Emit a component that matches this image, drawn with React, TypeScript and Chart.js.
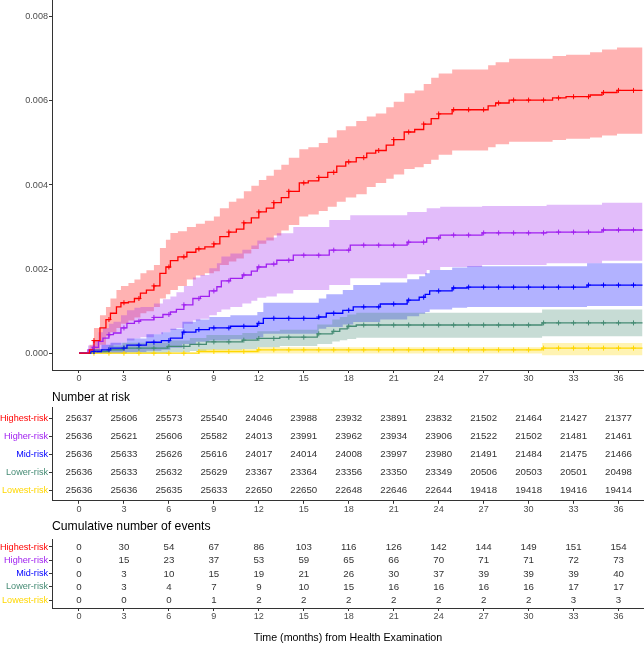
import React, { useEffect, useRef } from 'react';
import { Chart, registerables } from 'chart.js';

Chart.register(...registerables);
Chart.defaults.font.family = "'Liberation Sans', Arial, sans-serif";

const GROUPS = ['Highest-risk', 'Higher-risk', 'Mid-risk', 'Lower-risk', 'Lowest-risk'];
const COLORS = ['#FF0000', '#A020F0', '#0000FF', '#458B74', '#FFD700'];
const BAND_COLORS = ['rgba(255,0,0,0.3)', 'rgba(160,32,240,0.3)', 'rgba(0,0,255,0.3)', 'rgba(69,139,116,0.3)', 'rgba(255,215,0,0.3)'];

const X_TICKS = [0, 3, 6, 9, 12, 15, 18, 21, 24, 27, 30, 33, 36];
const Y_TICKS = [0, 0.002, 0.004, 0.006, 0.008];

// Highest-risk
const HIGHEST_T = [0, 0.7, 1.0, 1.4, 1.8, 2.1, 2.5, 2.8, 3.3, 3.7, 4.1, 4.5, 5.0, 5.4, 5.8, 6.1, 6.6, 7.2, 7.8, 8.4, 9.0, 9.4, 10.0, 10.5, 11.0, 11.5, 12.0, 12.5, 13.0, 13.5, 14.0, 14.7, 15.3, 16.0, 16.6, 17.2, 17.8, 18.5, 19.2, 19.8, 20.5, 21.0, 21.7, 22.4, 23.0, 23.5, 24.0, 24.9, 27.3, 27.8, 28.7, 31.6, 32.5, 34.1, 34.9, 35.9, 37.6];
const HIGHEST_EST = [0, 0.00008, 0.0003, 0.0006, 0.0008, 0.00095, 0.0011, 0.0012, 0.00122, 0.0013, 0.00143, 0.0015, 0.0016, 0.0019, 0.00205, 0.0022, 0.00229, 0.0024, 0.00248, 0.00253, 0.0026, 0.00277, 0.00288, 0.00295, 0.0031, 0.00322, 0.00336, 0.00345, 0.00358, 0.0037, 0.00385, 0.00405, 0.0041, 0.00418, 0.0043, 0.00445, 0.00455, 0.00465, 0.00476, 0.00482, 0.00495, 0.00508, 0.00526, 0.00532, 0.00545, 0.00558, 0.00569, 0.00579, 0.00588, 0.00595, 0.00602, 0.00607, 0.0061, 0.00614, 0.0062, 0.00625, 0.00625];
const HIGHEST_HI = [0, 0.0002, 0.0006, 0.0009, 0.0011, 0.0013, 0.0015, 0.0016, 0.00167, 0.00175, 0.0019, 0.00197, 0.0021, 0.0025, 0.0027, 0.00286, 0.0029, 0.003, 0.00308, 0.00315, 0.00325, 0.00345, 0.0036, 0.00368, 0.00385, 0.00398, 0.00412, 0.00422, 0.00436, 0.00448, 0.00465, 0.00485, 0.0049, 0.005, 0.00513, 0.0053, 0.0054, 0.00552, 0.00563, 0.0057, 0.00585, 0.00598, 0.00618, 0.00625, 0.0064, 0.00655, 0.00665, 0.00675, 0.00685, 0.00692, 0.007, 0.00707, 0.0071, 0.00716, 0.00722, 0.00727, 0.00727];
const HIGHEST_LO = [0, 0, 0.00005, 0.0002, 0.0004, 0.0005, 0.0006, 0.0007, 0.00078, 0.00085, 0.00095, 0.001, 0.0011, 0.0013, 0.0014, 0.0015, 0.0016, 0.00175, 0.00185, 0.0019, 0.00195, 0.0021, 0.00218, 0.00225, 0.00237, 0.00248, 0.0026, 0.00268, 0.0028, 0.00292, 0.00305, 0.00325, 0.0033, 0.00338, 0.00348, 0.0036, 0.0037, 0.00378, 0.00395, 0.00405, 0.00415, 0.00425, 0.00438, 0.00442, 0.0045, 0.0046, 0.00472, 0.00482, 0.0049, 0.00497, 0.00503, 0.00507, 0.0051, 0.00513, 0.00518, 0.00522, 0.00522];

// Higher-risk
const HIGHER_T = [0, 0.6, 0.9, 1.3, 1.6, 2.0, 2.3, 2.8, 3.2, 3.7, 4.1, 5.0, 5.6, 6.1, 6.5, 7.0, 7.6, 8.1, 8.7, 9.2, 9.5, 10.1, 10.9, 11.5, 11.9, 12.5, 13.2, 14.3, 16.7, 18.1, 21.9, 23.2, 24.1, 26.9, 31.2, 34.9, 37.6];
const HIGHER_EST = [0, 0.00008, 0.00014, 0.00028, 0.00036, 0.00044, 0.00048, 0.0006, 0.00071, 0.00076, 0.00079, 0.00085, 0.00092, 0.00098, 0.00104, 0.00115, 0.0013, 0.00135, 0.00148, 0.00158, 0.00172, 0.00178, 0.00186, 0.00195, 0.00205, 0.00212, 0.00221, 0.00233, 0.00245, 0.00257, 0.00264, 0.00274, 0.00281, 0.00286, 0.00288, 0.00293, 0.00293];
const HIGHER_HI = [0, 0.00018, 0.0003, 0.0005, 0.0006, 0.0007, 0.00075, 0.0009, 0.00102, 0.00108, 0.0011, 0.00118, 0.00128, 0.00135, 0.00145, 0.0016, 0.0018, 0.00186, 0.00202, 0.00214, 0.0023, 0.00237, 0.00246, 0.00256, 0.00268, 0.00275, 0.00285, 0.003, 0.00317, 0.00328, 0.00336, 0.00345, 0.00348, 0.0035, 0.00353, 0.00358, 0.00358];
const HIGHER_LO = [0, 0, 0, 0.00005, 0.0001, 0.00015, 0.0002, 0.00025, 0.0003, 0.00035, 0.00038, 0.00045, 0.0005, 0.00055, 0.0006, 0.0007, 0.00078, 0.00082, 0.0009, 0.00098, 0.00104, 0.0011, 0.00118, 0.00125, 0.00132, 0.00135, 0.00142, 0.0015, 0.00162, 0.00178, 0.00188, 0.00198, 0.00205, 0.0021, 0.00214, 0.0022, 0.0022];

// Mid-risk
const MID_T = [0, 0.8, 1.5, 2.1, 3.2, 4.5, 5.5, 6.1, 6.9, 7.8, 8.7, 10.1, 11.9, 12.3, 16.0, 16.5, 17.6, 18.3, 20.1, 21.9, 22.7, 23.1, 23.4, 24.9, 25.9, 33.9, 37.6];
const MID_EST = [0, 0.00004, 0.00008, 0.00012, 0.00019, 0.00026, 0.0003, 0.00036, 0.0005, 0.00056, 0.0006, 0.00064, 0.00071, 0.00083, 0.00086, 0.00095, 0.00102, 0.0011, 0.00117, 0.00126, 0.00133, 0.0014, 0.00148, 0.00155, 0.00157, 0.00162, 0.00162];
const MID_HI = [0, 0.0001, 0.0002, 0.00025, 0.00035, 0.00045, 0.0005, 0.00058, 0.00075, 0.0008, 0.00086, 0.0009, 0.00098, 0.0012, 0.0013, 0.0014, 0.0015, 0.00162, 0.00168, 0.00176, 0.00183, 0.0019, 0.00198, 0.00204, 0.00207, 0.00214, 0.00214];
const MID_LO = [0, 0, 0, 0, 0.00003, 0.00006, 0.00008, 0.00013, 0.00022, 0.00027, 0.0003, 0.00033, 0.00038, 0.00046, 0.00058, 0.00062, 0.00068, 0.00074, 0.0008, 0.00088, 0.00094, 0.00098, 0.00104, 0.00108, 0.0011, 0.00112, 0.00112];

// Lower-risk
const LOWER_T = [0, 1.0, 2.0, 2.9, 5.9, 7.4, 8.5, 10.9, 11.9, 13.4, 15.9, 16.9, 17.4, 17.9, 18.5, 30.9, 37.6];
const LOWER_EST = [0, 0.00004, 0.00008, 0.00012, 0.00016, 0.00021, 0.00027, 0.00031, 0.00035, 0.00038, 0.00046, 0.00052, 0.00058, 0.00064, 0.00067, 0.00072, 0.00072];
const LOWER_HI = [0, 0.0001, 0.00018, 0.00025, 0.0003, 0.00036, 0.00043, 0.00048, 0.00052, 0.00056, 0.00068, 0.0008, 0.00086, 0.00092, 0.00096, 0.00104, 0.00104];
const LOWER_LO = [0, 0, 0, 0, 0.00002, 0.00005, 0.00008, 0.0001, 0.00014, 0.00017, 0.00022, 0.00028, 0.00031, 0.00034, 0.00037, 0.0004, 0.0004];

// Lowest-risk
const LOWEST_T = [0, 8.0, 11.9, 30.9, 37.6];
const LOWEST_EST = [0, 0.00004, 0.00008, 0.00012, 0.00012];
const LOWEST_HI = [0, 0.0001, 0.00014, 0.00024, 0.00024];
const LOWEST_LO = [0, -0.00001, -0.00001, -0.00005, -0.00005];

const CENSOR_MONTHS = [1, 2, 3, 4, 5, 6, 7, 8, 9, 10, 11, 12, 13, 14, 15, 16, 17, 18, 19, 20, 21, 22, 23, 24, 25, 26, 27, 28, 29, 30, 31, 32, 33, 34, 35, 36, 37];

// Number at risk
const RISK_HIGHEST = [25637, 25606, 25573, 25540, 24046, 23988, 23932, 23891, 23832, 21502, 21464, 21427, 21377];
const RISK_HIGHER = [25636, 25621, 25606, 25582, 24013, 23991, 23962, 23934, 23906, 21522, 21502, 21481, 21461];
const RISK_MID = [25636, 25633, 25626, 25616, 24017, 24014, 24008, 23997, 23980, 21491, 21484, 21475, 21466];
const RISK_LOWER = [25636, 25633, 25632, 25629, 23367, 23364, 23356, 23350, 23349, 20506, 20503, 20501, 20498];
const RISK_LOWEST = [25636, 25636, 25635, 25633, 22650, 22650, 22648, 22646, 22644, 19418, 19418, 19416, 19414];

// Cumulative number of events
const EVENTS_HIGHEST = [0, 30, 54, 67, 86, 103, 116, 126, 142, 144, 149, 151, 154];
const EVENTS_HIGHER = [0, 15, 23, 37, 53, 59, 65, 66, 70, 71, 71, 72, 73];
const EVENTS_MID = [0, 3, 10, 15, 19, 21, 26, 30, 37, 39, 39, 39, 40];
const EVENTS_LOWER = [0, 3, 4, 7, 9, 10, 15, 16, 16, 16, 16, 17, 17];
const EVENTS_LOWEST = [0, 0, 0, 1, 2, 2, 2, 2, 2, 2, 2, 3, 3];

const SERIES = [
  { t: HIGHEST_T, est: HIGHEST_EST, hi: HIGHEST_HI, lo: HIGHEST_LO },
  { t: HIGHER_T, est: HIGHER_EST, hi: HIGHER_HI, lo: HIGHER_LO },
  { t: MID_T, est: MID_EST, hi: MID_HI, lo: MID_LO },
  { t: LOWER_T, est: LOWER_EST, hi: LOWER_HI, lo: LOWER_LO },
  { t: LOWEST_T, est: LOWEST_EST, hi: LOWEST_HI, lo: LOWEST_LO },
];
const RISK_TABLE = [RISK_HIGHEST, RISK_HIGHER, RISK_MID, RISK_LOWER, RISK_LOWEST];
const EVENTS_TABLE = [EVENTS_HIGHEST, EVENTS_HIGHER, EVENTS_MID, EVENTS_LOWER, EVENTS_LOWEST];

const X_MIN = -1.8;
const X_MAX = 37.7;
const AXIS_COLOR = '#333333';
const TICK_TEXT = '#4D4D4D';
const TICK_FONT = 9.1;

function stepAt(t: number, T: number[], V: number[]) {
  let v = V[0];
  for (let i = 0; i < T.length; i++) {
    if (T[i] <= t) v = V[i];
  }
  return v;
}

function zeroPad(s: any) {
  s.paddingLeft = 0;
  s.paddingRight = 0;
  s.paddingTop = 0;
  s.paddingBottom = 0;
}

function xScale(height: number, title?: string) {
  return {
    type: 'linear',
    min: X_MIN,
    max: X_MAX,
    afterBuildTicks: (s: any) => { s.ticks = X_TICKS.map((v) => ({ value: v })); },
    afterFit: (s: any) => { s.height = height; zeroPad(s); },
    ticks: { font: { size: TICK_FONT }, color: TICK_TEXT, padding: 0, autoSkip: false, maxRotation: 0, callback: (v: any) => String(v) },
    grid: { drawOnChartArea: false, drawTicks: true, tickLength: 3, color: AXIS_COLOR, lineWidth: 1 },
    border: { display: true, color: AXIS_COLOR, width: 1 },
    title: title
      ? { display: true, text: title, font: { size: 10.7 }, color: '#000', padding: { top: 0, bottom: 0.6 } }
      : { display: false },
  };
}

function mainConfig(): any {
  const datasets: any[] = [];
  SERIES.forEach((s, i) => {
    datasets.push({
      type: 'scatter',
      data: CENSOR_MONTHS.map((m) => ({ x: m, y: stepAt(m, s.t, s.est) })),
      pointStyle: 'cross',
      pointRadius: 2.5,
      borderColor: COLORS[i],
      backgroundColor: COLORS[i],
      borderWidth: 1,
      showLine: false,
      order: 0,
    });
  });
  SERIES.forEach((s, i) => {
    datasets.push({
      type: 'line',
      data: s.t.map((x, k) => ({ x, y: s.est[k] })),
      borderColor: COLORS[i],
      borderWidth: 1.3,
      pointRadius: 0,
      stepped: true,
      fill: false,
      order: 1 + i,
    });
  });
  SERIES.forEach((s, i) => {
    datasets.push({
      type: 'line',
      data: s.t.map((x, k) => ({ x, y: s.hi[k] })),
      borderColor: 'transparent',
      borderWidth: 0,
      backgroundColor: BAND_COLORS[i],
      pointRadius: 0,
      stepped: true,
      fill: '+1',
      order: 20 - i,
    });
    datasets.push({
      type: 'line',
      data: s.t.map((x, k) => ({ x, y: s.lo[k] })),
      borderColor: 'transparent',
      borderWidth: 0,
      pointRadius: 0,
      stepped: true,
      fill: false,
      order: 20 - i,
    });
  });
  return {
    type: 'line',
    data: { datasets },
    options: {
      responsive: false,
      animation: false,
      devicePixelRatio: 1,
      events: [],
      layout: { padding: 0, autoPadding: false },
      plugins: { legend: { display: false }, tooltip: { enabled: false }, title: { display: false } },
      scales: {
        x: xScale(16),
        y: {
          type: 'linear',
          min: -0.0004,
          max: 0.0084,
          afterBuildTicks: (s: any) => { s.ticks = Y_TICKS.map((v) => ({ value: v })); },
          afterFit: (s: any) => { s.width = 52; zeroPad(s); },
          ticks: { font: { size: TICK_FONT }, color: TICK_TEXT, padding: 1, callback: (v: any) => Number(v).toFixed(3) },
          grid: { drawOnChartArea: false, drawTicks: true, tickLength: 3, color: AXIS_COLOR, lineWidth: 1 },
          border: { display: true, color: AXIS_COLOR, width: 1 },
        },
      },
    },
  };
}

const valueLabels = {
  id: 'valueLabels',
  afterDatasetsDraw(chart: any) {
    const ctx = chart.ctx;
    ctx.save();
    ctx.font = "9.7px 'Liberation Sans', Arial, sans-serif";
    ctx.fillStyle = '#333333';
    ctx.textAlign = 'center';
    ctx.textBaseline = 'middle';
    chart.data.datasets.forEach((ds: any, i: number) => {
      const meta = chart.getDatasetMeta(i);
      meta.data.forEach((el: any, j: number) => {
        ctx.fillText(String(ds.data[j].v), el.x, el.y + 0.5);
      });
    });
    ctx.restore();
  },
};

function tableConfig(table: number[][], title: string, titleFont: number, titlePad: any, xHeight: number, xTitle?: string): any {
  return {
    type: 'scatter',
    data: {
      datasets: GROUPS.map((g, i) => ({
        label: g,
        data: X_TICKS.map((x, k) => ({ x, y: i, v: table[i][k] })),
        pointRadius: 0,
        showLine: false,
      })),
    },
    plugins: [valueLabels],
    options: {
      responsive: false,
      animation: false,
      devicePixelRatio: 1,
      events: [],
      layout: { padding: 0, autoPadding: false },
      plugins: {
        legend: { display: false },
        tooltip: { enabled: false },
        title: {
          display: true,
          text: title,
          align: 'start',
          fullSize: false,
          color: '#000',
          font: { size: titleFont, weight: 'normal' },
          padding: titlePad,
        },
      },
      scales: {
        x: xScale(xHeight, xTitle),
        y: {
          type: 'linear',
          min: -0.6,
          max: 4.6,
          reverse: true,
          afterBuildTicks: (s: any) => { s.ticks = GROUPS.map((_, i) => ({ value: i })); },
          afterFit: (s: any) => { s.width = 52; zeroPad(s); },
          ticks: {
            font: { size: TICK_FONT },
            padding: 1,
            color: (c: any) => COLORS[c.index] || TICK_TEXT,
            callback: (v: any) => GROUPS[v],
          },
          grid: { drawOnChartArea: false, drawTicks: true, tickLength: 3, color: AXIS_COLOR, lineWidth: 1 },
          border: { display: true, color: AXIS_COLOR, width: 1 },
        },
      },
    },
  };
}

export default function App() {
  const mainRef = useRef<HTMLCanvasElement>(null);
  const riskRef = useRef<HTMLCanvasElement>(null);
  const evRef = useRef<HTMLCanvasElement>(null);

  useEffect(() => {
    const charts = [
      new Chart(mainRef.current as HTMLCanvasElement, mainConfig()),
      new Chart(riskRef.current as HTMLCanvasElement, tableConfig(RISK_TABLE, 'Number at risk', 12, { top: 4, bottom: 2.8 }, 17.2)),
      new Chart(evRef.current as HTMLCanvasElement, tableConfig(EVENTS_TABLE, 'Cumulative number of events', 12.2, { top: 1.7, bottom: 4.7 }, 37, 'Time (months) from Health Examination')),
    ];
    return () => charts.forEach((c) => c.destroy());
  }, []);

  return (
    <div style={{ position: 'absolute', left: 0, top: 0, width: 644, height: 645, background: '#fff', overflow: 'hidden' }}>
      <canvas ref={mainRef} width={644} height={386} style={{ position: 'absolute', left: 0, top: 0 }} />
      <canvas ref={riskRef} width={644} height={132} style={{ position: 'absolute', left: 0, top: 386 }} />
      <canvas ref={evRef} width={644} height={127} style={{ position: 'absolute', left: 0, top: 518 }} />
    </div>
  );
}
